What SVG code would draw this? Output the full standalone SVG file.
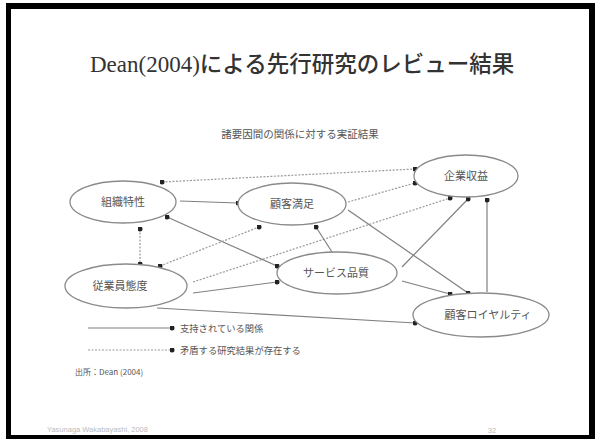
<svg xmlns="http://www.w3.org/2000/svg" width="595" height="439" viewBox="0 0 595 439">
<defs>
<style>
.node ellipse{fill:#fff;stroke:#8a8a8a;stroke-width:1.3}
.node text{font-family:"Noto Sans CJK JP","Noto Sans",sans-serif;font-size:11px;fill:#555;text-anchor:middle}
.solid{stroke:#808080;stroke-width:1.2;fill:none}
.dot{stroke:#9a9a9a;stroke-width:1.2;stroke-dasharray:2 1.5;fill:none}
.lbl{font-family:"Noto Sans CJK JP","Noto Sans",sans-serif;fill:#555}
</style>
<marker id="d" viewBox="0 0 6 6" refX="3" refY="3" markerWidth="5" markerHeight="5" markerUnits="userSpaceOnUse"><circle cx="3" cy="3" r="3" fill="#222"/></marker>
</defs>
<rect x="6" y="3" width="589" height="436" fill="#000"/>
<rect x="11" y="9" width="578" height="426" fill="#fff"/>
<text x="90" y="72" font-size="23" fill="#333"><tspan font-family="Liberation Serif,serif">Dean(2004)</tspan><tspan font-family="Noto Sans CJK JP,sans-serif" font-size="22.5" font-weight="500">による先行研究のレビュー結果</tspan></text>
<text class="lbl" x="300" y="138" font-size="10.5" text-anchor="middle">諸要因間の関係に対する実証結果</text>
<g id="connectors">
<line class="solid" x1="180" y1="201" x2="238" y2="203" marker-end="url(#d)"/>
<line class="dot" x1="162" y1="182" x2="415" y2="169" marker-start="url(#d)" marker-end="url(#d)"/>
<line class="dot" x1="140" y1="229" x2="140" y2="264" marker-start="url(#d)" marker-end="url(#d)"/>
<line class="solid" x1="167" y1="217" x2="277" y2="266" marker-start="url(#d)" marker-end="url(#d)"/>
<line class="dot" x1="160" y1="266" x2="259" y2="227" marker-start="url(#d)" marker-end="url(#d)"/>
<line class="dot" x1="193" y1="282" x2="450" y2="198" marker-end="url(#d)"/>
<line class="dot" x1="348" y1="202" x2="415" y2="183" marker-end="url(#d)"/>
<line class="solid" x1="348" y1="210" x2="468" y2="293" marker-end="url(#d)"/>
<line class="solid" x1="332" y1="252" x2="316" y2="227" marker-end="url(#d)"/>
<line class="solid" x1="402" y1="267" x2="468" y2="199" marker-end="url(#d)"/>
<line class="solid" x1="402" y1="281" x2="450" y2="294" marker-end="url(#d)"/>
<line class="solid" x1="487" y1="292" x2="487" y2="200" marker-end="url(#d)"/>
<line class="solid" x1="157" y1="308" x2="415" y2="323" marker-end="url(#d)"/>
<line class="solid" x1="193" y1="293" x2="277" y2="282" marker-end="url(#d)"/>
</g>
<g id="n1" class="node"><ellipse cx="123" cy="202" rx="53" ry="21"/><text x="123" y="206">組織特性</text></g>
<g id="n2" class="node"><ellipse cx="292" cy="204" rx="54" ry="21"/><text x="292" y="208">顧客満足</text></g>
<g id="n3" class="node"><ellipse cx="466" cy="176" rx="52" ry="21"/><text x="466" y="180">企業収益</text></g>
<g id="n4" class="node"><ellipse cx="126" cy="286" rx="61" ry="22"/><text x="120" y="290">従業員態度</text></g>
<g id="n5" class="node"><ellipse cx="337" cy="273" rx="60" ry="21"/><text x="336" y="277">サービス品質</text></g>
<g id="n6" class="node"><ellipse cx="481" cy="315" rx="68" ry="22"/><text x="488" y="319">顧客ロイヤルティ</text></g>
<g id="legend">
<line class="solid" x1="88" y1="328" x2="172" y2="328" marker-end="url(#d)"/>
<text class="lbl" x="180" y="332" font-size="9.3">支持されている関係</text>
<line class="dot" x1="88" y1="350" x2="172" y2="350" marker-end="url(#d)"/>
<text class="lbl" x="180" y="354" font-size="9.3">矛盾する研究結果が存在する</text>
<text class="lbl" x="75" y="375" font-size="8">出所：Dean (2004)</text>
</g>
<text x="47" y="432" font-family="Liberation Sans,sans-serif" font-size="7.5" fill="#bbb">Yasunaga Wakabayashi, 2008</text>
<text x="492" y="433" font-family="Liberation Sans,sans-serif" font-size="7.5" fill="#bbb" text-anchor="middle">32</text>
</svg>
